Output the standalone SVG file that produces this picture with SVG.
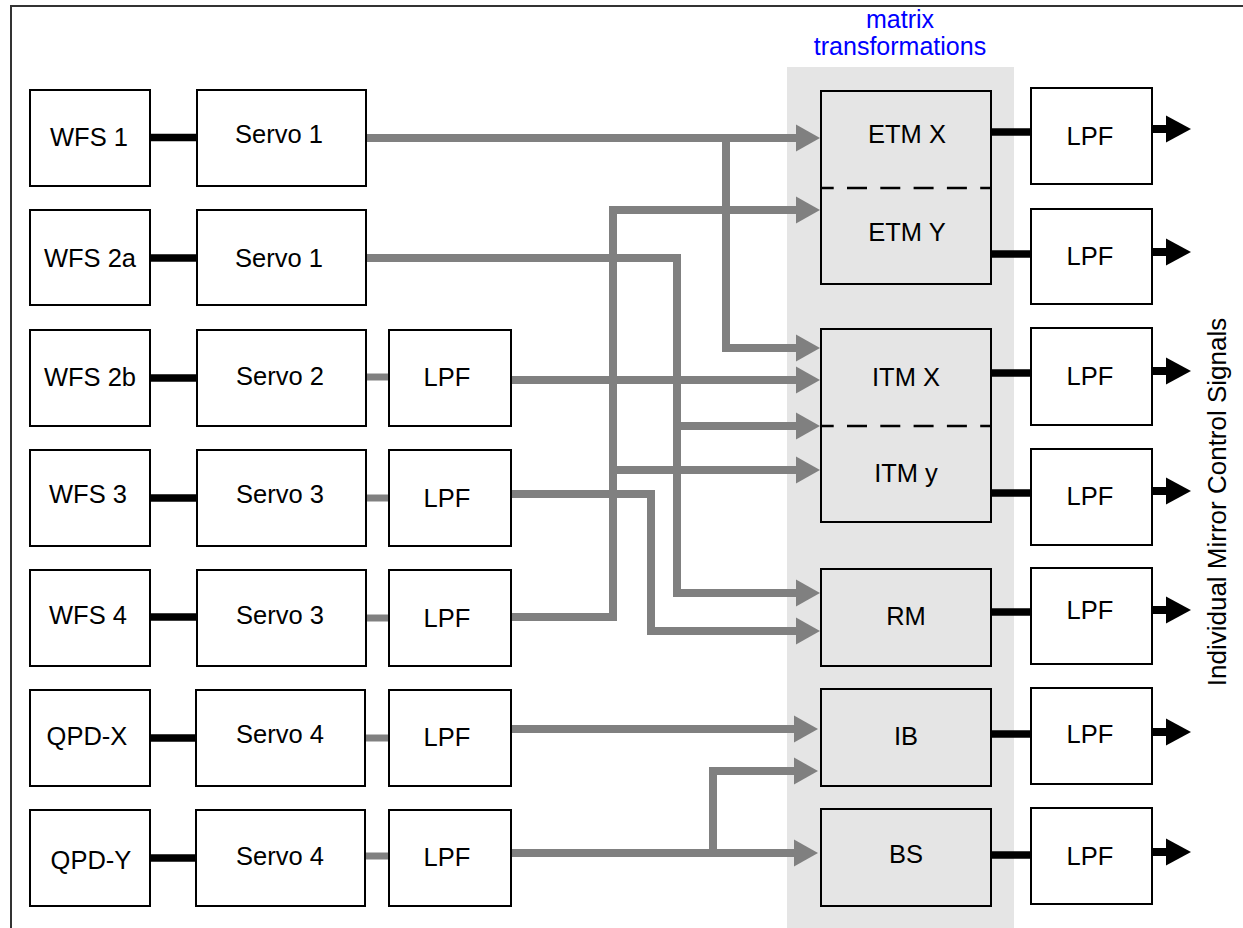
<svg xmlns="http://www.w3.org/2000/svg" width="1243" height="928" viewBox="0 0 1243 928">
  <style>
    .box { fill: #ffffff; stroke: #000000; stroke-width: 2; }
    .mx { fill: #e5e5e5; stroke: #000000; stroke-width: 2; }
    .div { stroke: #000000; stroke-width: 2.5; stroke-dasharray: 20 13.3; stroke-dashoffset: 7.3; }
    .t { font-family: "Liberation Sans", Arial, sans-serif; font-size: 25.5px; fill: #000000; text-anchor: middle; }
    .lbl { font-family: "Liberation Sans", Arial, sans-serif; font-size: 26px; text-anchor: middle; }
    .head { font-family: "Liberation Sans", Arial, sans-serif; font-size: 25px; fill: #0000ff; text-anchor: middle; }
    .sigA { fill: none; stroke: #808080; stroke-width: 8; stroke-linejoin: miter; marker-end: url(#ag); }
    .link { stroke: #000000; stroke-width: 7.5; }
    .glink { stroke: #808080; stroke-width: 7; }
    .out { stroke: #000000; stroke-width: 8; marker-end: url(#ab); }
  </style>
  <defs>
    <marker id="ag" markerUnits="userSpaceOnUse" viewBox="-1 0 25 28" markerWidth="25" markerHeight="28" refX="0" refY="14" orient="auto">
      <path d="M-1,0.5 L23,14 L-1,27.5 Z" fill="#808080"/>
    </marker>
    <marker id="ab" markerUnits="userSpaceOnUse" viewBox="-1 0 25 28" markerWidth="25" markerHeight="28" refX="0" refY="14" orient="auto">
      <path d="M-1,0.5 L24,14 L-1,27.5 Z" fill="#000000"/>
    </marker>
  </defs>

  <rect width="1243" height="928" fill="#ffffff"/>
  <!-- frame -->
  <path d="M11,928 V6 H1243" fill="none" stroke="#333333" stroke-width="2"/>

  <!-- matrix panel -->
  <g id="matrix-panel">
    <rect x="787" y="67" width="227" height="861" fill="#e5e5e5"/>
    <text class="head" x="900" y="28">matrix</text>
    <text class="head" x="900" y="55">transformations</text>
  </g>

  <!-- connectors -->
  <g id="connectors">
    <!-- sensor to servo -->
    <line class="link" x1="150" y1="137.5" x2="197" y2="137.5"/>
    <line class="link" x1="150" y1="258" x2="197" y2="258"/>
    <line class="link" x1="150" y1="378" x2="197" y2="378"/>
    <line class="link" x1="150" y1="498" x2="197" y2="498"/>
    <line class="link" x1="150" y1="617" x2="197" y2="617"/>
    <line class="link" x1="150" y1="738" x2="197" y2="738"/>
    <line class="link" x1="150" y1="858" x2="197" y2="858"/>
    <!-- servo to filter -->
    <line class="glink" x1="366" y1="377" x2="389" y2="377"/>
    <line class="glink" x1="366" y1="498" x2="389" y2="498"/>
    <line class="glink" x1="366" y1="618" x2="389" y2="618"/>
    <line class="glink" x1="366" y1="738" x2="389" y2="738"/>
    <line class="glink" x1="366" y1="856" x2="389" y2="856"/>
    <!-- routed signals into matrix -->
    <path class="sigA" d="M366,138 H797"/>
    <path class="sigA" d="M726,138 V348 H797"/>
    <path class="sigA" d="M366,258 H677 V593 H797"/>
    <path class="sigA" d="M673,426 H797"/>
    <path class="sigA" d="M511,380 H797"/>
    <path class="sigA" d="M511,494 H651 V631 H797"/>
    <path class="sigA" d="M511,617 H613 V210 H797"/>
    <path class="sigA" d="M609,470 H797"/>
    <path class="sigA" d="M511,729 H795"/>
    <path class="sigA" d="M511,853 H795"/>
    <path class="sigA" d="M713,853 V771 H795"/>
    <!-- matrix to output filters -->
    <line class="link" x1="991" y1="132" x2="1031" y2="132"/>
    <line class="link" x1="991" y1="254" x2="1031" y2="254"/>
    <line class="link" x1="991" y1="373" x2="1031" y2="373"/>
    <line class="link" x1="991" y1="493" x2="1031" y2="493"/>
    <line class="link" x1="991" y1="612" x2="1031" y2="612"/>
    <line class="link" x1="991" y1="734" x2="1031" y2="734"/>
    <line class="link" x1="991" y1="855" x2="1031" y2="855"/>
    <!-- outputs -->
    <line class="out" x1="1152" y1="129" x2="1167" y2="129"/>
    <line class="out" x1="1152" y1="252" x2="1167" y2="252"/>
    <line class="out" x1="1152" y1="371" x2="1167" y2="371"/>
    <line class="out" x1="1152" y1="491" x2="1167" y2="491"/>
    <line class="out" x1="1152" y1="610" x2="1167" y2="610"/>
    <line class="out" x1="1152" y1="732" x2="1167" y2="732"/>
    <line class="out" x1="1152" y1="852" x2="1167" y2="852"/>
  </g>

  <!-- sensors -->
  <g id="wfs1"><rect class="box" x="30" y="90" width="120" height="96"/><text class="t" x="89" y="146">WFS 1</text></g>
  <g id="wfs2a"><rect class="box" x="30" y="210" width="120" height="95"/><text class="t" x="90" y="267">WFS 2a</text></g>
  <g id="wfs2b"><rect class="box" x="30" y="330" width="120" height="96"/><text class="t" x="90" y="386">WFS 2b</text></g>
  <g id="wfs3"><rect class="box" x="30" y="450" width="120" height="96"/><text class="t" x="88" y="503">WFS 3</text></g>
  <g id="wfs4"><rect class="box" x="30" y="570" width="120" height="96"/><text class="t" x="88" y="624">WFS 4</text></g>
  <g id="qpdx"><rect class="box" x="30" y="690" width="120" height="96"/><text class="t" x="87" y="745">QPD-X</text></g>
  <g id="qpdy"><rect class="box" x="30" y="810" width="120" height="96"/><text class="t" x="91" y="869">QPD-Y</text></g>

  <!-- servos -->
  <g id="servo-a"><rect class="box" x="197" y="90" width="169" height="96"/><text class="t" x="279" y="143">Servo 1</text></g>
  <g id="servo-b"><rect class="box" x="197" y="210" width="169" height="95"/><text class="t" x="279" y="267">Servo 1</text></g>
  <g id="servo-c"><rect class="box" x="197" y="330" width="169" height="96"/><text class="t" x="280" y="385">Servo 2</text></g>
  <g id="servo-d"><rect class="box" x="197" y="450" width="169" height="96"/><text class="t" x="280" y="503">Servo 3</text></g>
  <g id="servo-e"><rect class="box" x="197" y="570" width="169" height="96"/><text class="t" x="280" y="624">Servo 3</text></g>
  <g id="servo-f"><rect class="box" x="196" y="690" width="169" height="96"/><text class="t" x="280" y="743">Servo 4</text></g>
  <g id="servo-g"><rect class="box" x="196" y="810" width="169" height="96"/><text class="t" x="280" y="865">Servo 4</text></g>

  <!-- input filters -->
  <g id="lpf-in-c"><rect class="box" x="389" y="330" width="122" height="96"/><text class="t" x="447" y="386">LPF</text></g>
  <g id="lpf-in-d"><rect class="box" x="389" y="450" width="122" height="96"/><text class="t" x="447" y="507">LPF</text></g>
  <g id="lpf-in-e"><rect class="box" x="389" y="570" width="122" height="96"/><text class="t" x="447" y="627">LPF</text></g>
  <g id="lpf-in-f"><rect class="box" x="389" y="690" width="122" height="96"/><text class="t" x="447" y="746">LPF</text></g>
  <g id="lpf-in-g"><rect class="box" x="389" y="810" width="122" height="96"/><text class="t" x="447" y="866">LPF</text></g>

  <!-- matrix blocks -->
  <g id="etm">
    <rect class="mx" x="821" y="91" width="170" height="193"/>
    <line class="div" x1="821" y1="188" x2="991" y2="188"/>
    <text class="t" x="907" y="143">ETM X</text>
    <text class="t" x="907" y="241">ETM Y</text>
  </g>
  <g id="itm">
    <rect class="mx" x="821" y="329" width="170" height="193"/>
    <line class="div" x1="821" y1="426" x2="991" y2="426"/>
    <text class="t" x="906" y="386">ITM X</text>
    <text class="t" x="906" y="482">ITM y</text>
  </g>
  <g id="rm"><rect class="mx" x="821" y="569" width="170" height="97"/><text class="t" x="906" y="625">RM</text></g>
  <g id="ib"><rect class="mx" x="821" y="689" width="170" height="97"/><text class="t" x="906" y="745">IB</text></g>
  <g id="bs"><rect class="mx" x="821" y="809" width="170" height="97"/><text class="t" x="906" y="863">BS</text></g>

  <!-- output filters -->
  <g id="lpf-out-1"><rect class="box" x="1031" y="88" width="121" height="96"/><text class="t" x="1090" y="145">LPF</text></g>
  <g id="lpf-out-2"><rect class="box" x="1031" y="209" width="121" height="95"/><text class="t" x="1090" y="265">LPF</text></g>
  <g id="lpf-out-3"><rect class="box" x="1031" y="328" width="121" height="97"/><text class="t" x="1090" y="385">LPF</text></g>
  <g id="lpf-out-4"><rect class="box" x="1031" y="449" width="121" height="96"/><text class="t" x="1090" y="505">LPF</text></g>
  <g id="lpf-out-5"><rect class="box" x="1031" y="568" width="121" height="96"/><text class="t" x="1090" y="619">LPF</text></g>
  <g id="lpf-out-6"><rect class="box" x="1031" y="688" width="121" height="96"/><text class="t" x="1090" y="743">LPF</text></g>
  <g id="lpf-out-7"><rect class="box" x="1031" y="808" width="121" height="96"/><text class="t" x="1090" y="865">LPF</text></g>

  <!-- output label -->
  <g id="output-label">
    <text class="lbl" fill="#000000" transform="translate(1226,502) rotate(-90)">Individual Mirror Control Signals</text>
  </g>
</svg>
